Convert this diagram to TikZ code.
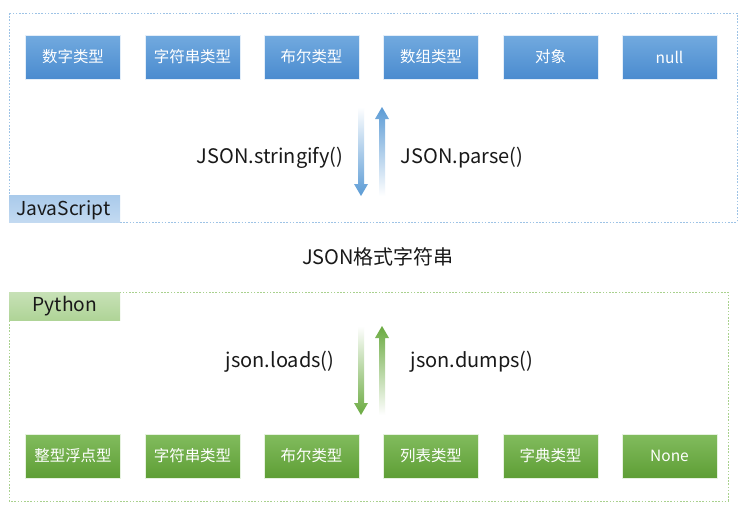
\documentclass[tikz,border=0pt]{standalone}
\usepackage{fontspec}
\setmainfont{Noto Sans CJK SC}
\usetikzlibrary{positioning}
\definecolor{bluetop}{HTML}{72AADF}
\definecolor{bluebot}{HTML}{4A8BCF}
\definecolor{greentop}{HTML}{82BC5E}
\definecolor{greenbot}{HTML}{5E9E35}
\definecolor{blueframe}{HTML}{9DC3E6}
\definecolor{greenframe}{HTML}{A9D18E}
\definecolor{bluelab}{HTML}{A9CAEB}
\definecolor{greenlab}{HTML}{AFD497}
\definecolor{bluearrow}{HTML}{5B9BD5}
\definecolor{greenarrow}{HTML}{6AAA40}
\tikzset{
  jsbox/.style={minimum width=71.25pt, minimum height=33pt, top color=bluetop, bottom color=bluebot, draw=white!80!bluetop, line width=0.5pt, text=white, font=\fontsize{11.6pt}{13pt}\selectfont, inner sep=0pt},
  pybox/.style={minimum width=71.25pt, minimum height=33pt, top color=greentop, bottom color=greenbot, draw=white!80!greentop, line width=0.5pt, text=white, font=\fontsize{11.6pt}{13pt}\selectfont, inner sep=0pt},
  frame/.style={dash pattern=on 1.2pt off 1.2pt, line width=0.6pt},
  fn/.style={font=\fontsize{15pt}{17pt}\selectfont, text=black!90, inner sep=0pt},
  lab/.style={font=\fontsize{14.4pt}{16pt}\selectfont, text=black!90, inner sep=0pt}
}
\begin{document}
\begin{tikzpicture}[x=0.75pt, y=-0.75pt]
\useasboundingbox[fill=white] (0,0) rectangle (756,514);
% frames
\draw[frame, draw=blueframe] (9,13) rectangle (737,222);
\draw[frame, draw=greenframe] (9,292) rectangle (728,501);
% labels
\shade[top color=bluelab, bottom color=bluelab!70!white] (9,195) rectangle (120,222);
\node[lab, anchor=west] (jslab) at (16,210) {JavaScript};
\shade[top color=greenlab!70!white, bottom color=greenlab] (9,292) rectangle (120,320);
\node[lab] (pylab) at (65,306) {Python};
% JS boxes
\node[jsbox] (j1) at (73,57) {数字类型};
\node[jsbox] (j2) at (192.5,57) {字符串类型};
\node[jsbox] (j3) at (311.5,57) {布尔类型};
\node[jsbox] (j4) at (431,57) {数组类型};
\node[jsbox] (j5) at (550.5,57) {对象};
\node[jsbox] (j6) at (669.5,57) {null};
% Python boxes
\node[pybox] (p1) at (73,456) {整型浮点型};
\node[pybox] (p2) at (192.5,456) {字符串类型};
\node[pybox] (p3) at (311.5,456) {布尔类型};
\node[pybox] (p4) at (431,456) {列表类型};
\node[pybox] (p5) at (550.5,456) {字典类型};
\node[pybox] (p6) at (669.5,456) {None};
% middle text
\node[fn] (json) at (378,257) {JSON格式字符串};
% top arrows
\shade[top color=white, bottom color=bluearrow]
  (358,107) -- (364,107) -- (364,184) -- (368,184) -- (361,196) -- (354,184) -- (358,184) -- cycle;
\shade[top color=bluearrow, bottom color=white]
  (379,196) -- (385,196) -- (385,119) -- (389,119) -- (382,107) -- (375,119) -- (379,119) -- cycle;
\node[fn] (stringify) at (270,158) {JSON.stringify()};
\node[fn] (parse) at (462,158) {JSON.parse()};
% bottom arrows
\shade[top color=white, bottom color=greenarrow]
  (358,326) -- (364,326) -- (364,403) -- (368,403) -- (361,415) -- (354,403) -- (358,403) -- cycle;
\shade[top color=greenarrow, bottom color=white]
  (379,415) -- (385,415) -- (385,338) -- (389,338) -- (382,326) -- (375,338) -- (379,338) -- cycle;
\node[fn] (loads) at (280,362) {json.loads()};
\node[fn] (dumps) at (472,362) {json.dumps()};
\end{tikzpicture}
\end{document}
